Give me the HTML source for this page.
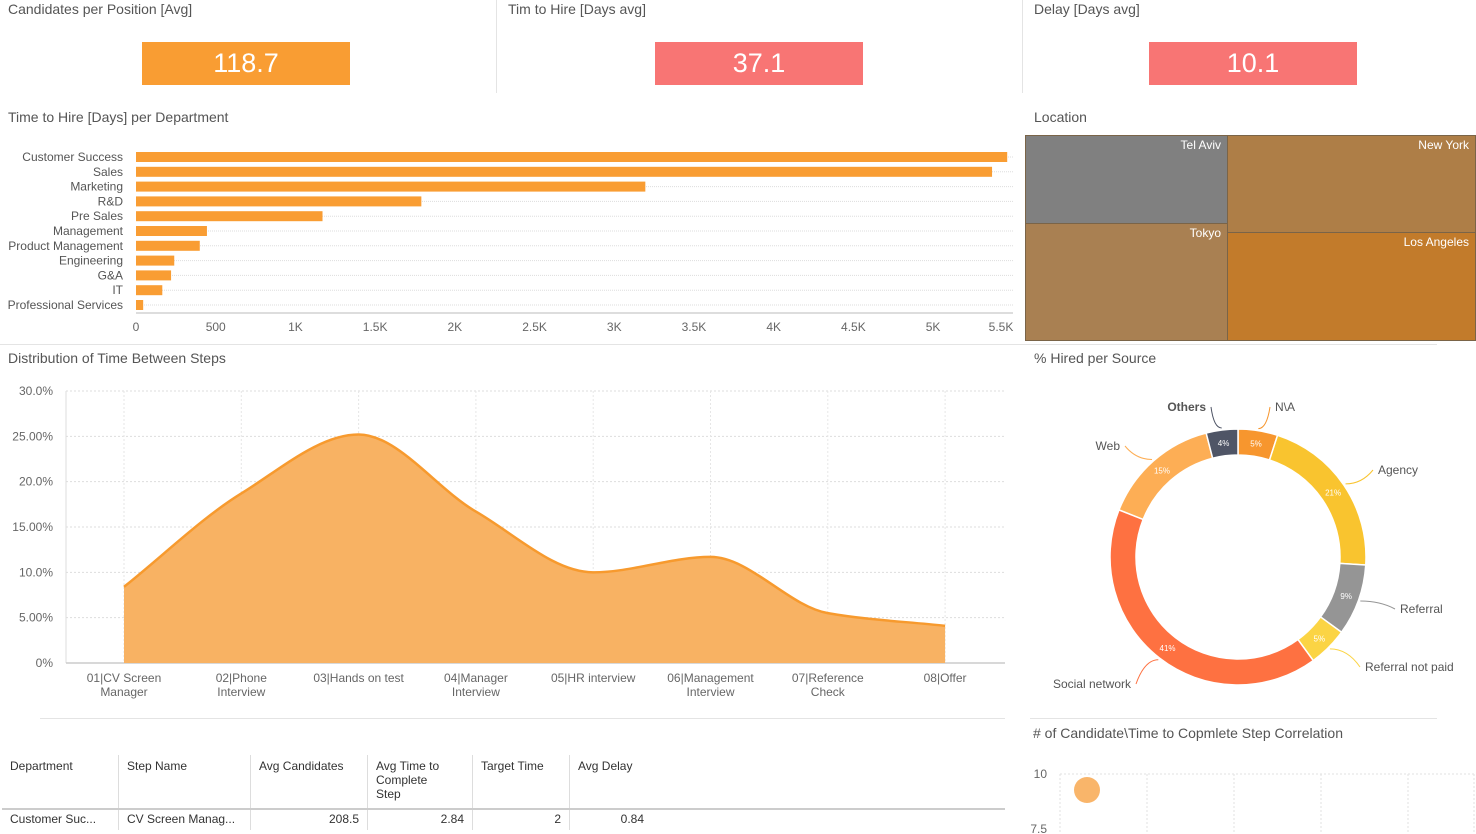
<!DOCTYPE html>
<html><head><meta charset="utf-8">
<style>
body{margin:0;width:1476px;height:834px;background:#fff;font-family:"Liberation Sans",sans-serif;overflow:hidden;position:relative;color:#555}
.t{position:absolute;font-size:14px;color:#555}
.kpi{position:absolute;top:42px;height:43px;width:208px;color:#fff;font-size:27px;text-align:center;line-height:43px}
.vl{position:absolute;width:1px;background:#e4e4e4}
.hl{position:absolute;height:1px;background:#e4e4e4}
.tm{position:absolute;color:#fff;font-size:12px;text-align:right;padding:2px 6px 0 0;box-sizing:border-box;border:1px solid #7a6448}
table{position:absolute;left:2px;top:755px;border-collapse:collapse;font-size:12px;color:#333}
td{border-left:1px solid #ddd;vertical-align:top;padding:4px 8px}
</style></head><body>
<div class="t" style="left:8px;top:1px">Candidates per Position [Avg]</div>
<div class="kpi" style="left:142px;background:#f99d33">118.7</div>
<div class="vl" style="left:496px;top:0;height:93px"></div>
<div class="t" style="left:508px;top:1px">Tim to Hire [Days avg]</div>
<div class="kpi" style="left:655px;background:#f87574">37.1</div>
<div class="vl" style="left:1022px;top:0;height:93px"></div>
<div class="t" style="left:1034px;top:1px">Delay [Days avg]</div>
<div class="kpi" style="left:1149px;background:#f87574">10.1</div>

<div class="t" style="left:8px;top:109px">Time to Hire [Days] per Department</div>
<div class="t" style="left:1034px;top:109px">Location</div>
<div class="tm" style="left:1025px;top:135px;width:203px;height:89px;background:#808080">Tel Aviv</div>
<div class="tm" style="left:1025px;top:223px;width:203px;height:118px;background:#a98052">Tokyo</div>
<div class="tm" style="left:1227px;top:135px;width:249px;height:98px;background:#ae7e47">New York</div>
<div class="tm" style="left:1227px;top:232px;width:249px;height:109px;background:#c27b2b">Los Angeles</div>

<div class="hl" style="left:0;top:344px;width:1437px"></div>
<div class="t" style="left:8px;top:350px">Distribution of Time Between Steps</div>
<div class="t" style="left:1034px;top:350px">% Hired per Source</div>
<div class="hl" style="left:40px;top:718px;width:965px"></div>
<div class="hl" style="left:1030px;top:718px;width:407px"></div>
<div class="t" style="left:1033px;top:725px">&#35; of Candidate\Time to Copmlete Step Correlation</div>

<svg id="svg" width="1476" height="834" style="position:absolute;left:0;top:0" font-family="Liberation Sans, sans-serif"></svg>

<table>
<tr style="height:53px"><td style="border-left:none;width:100px">Department</td><td style="width:115px">Step Name</td><td style="width:100px">Avg Candidates</td><td style="width:88px">Avg Time to<br>Complete<br>Step</td><td style="width:80px">Target Time</td><td style="width:66px">Avg Delay</td></tr>
<tr><td style="border-left:none">Customer Suc...</td><td>CV Screen Manag...</td><td style="text-align:right">208.5</td><td style="text-align:right">2.84</td><td style="text-align:right">2</td><td style="text-align:right">0.84</td></tr>
</table>
<div class="hl" style="left:2px;top:808px;width:1003px;height:2px;background:#ccc"></div>

<script>
const departments=["Customer Success","Sales","Marketing","R&D","Pre Sales","Management","Product Management","Engineering","G&A","IT","Professional Services"];
const hireDays=[5465,5370,3195,1790,1170,445,400,240,220,165,45];
const xTicks=[0,500,1000,1500,2000,2500,3000,3500,4000,4500,5000,5500];
const xTickLabels=["0","500","1K","1.5K","2K","2.5K","3K","3.5K","4K","4.5K","5K","5.5K"];

const steps=["01 | CV Screen|Manager","02 | Phone|Interview","03 | Hands on test","04 | Manager|Interview","05 | HR interview","06 | Management|Interview","07 | Reference|Check","08 | Offer"];
const stepPct=[8.4,18.7,25.2,16.7,10.0,11.7,5.5,4.1];
const yTicks=[0,5,10,15,20,25,30];
const yTickLabels=["0%","5.00%","10.0%","15.00%","20.0%","25.00%","30.0%"];

const sources=["N\\A","Agency","Referral","Referral not paid","Social network","Web","Others"];
const sourcePct=[5,21,9,5,41,15,4];
const sourceColors=["#f7962e","#f9c42f","#959595","#fbd444","#fe7141","#fdae55","#4f5566"];

const scatterX=[1];
const scatterY=[9.0];

const svg=document.getElementById('svg');
const NS="http://www.w3.org/2000/svg";
function mk(tag,attrs,parent){const e=document.createElementNS(NS,tag);for(const k in attrs)e.setAttribute(k,attrs[k]);(parent||svg).appendChild(e);return e;}

// Bar chart
const bx=v=>136+v*(1008-136)/5470;
const by=i=>157+i*14.8;
xTicks.forEach((t,i)=>{
  const tx=mk('text',{x:Math.min(bx(t),1001),y:331,'font-size':12,fill:'#666','text-anchor':'middle'});
  tx.textContent=xTickLabels[i];
  
  
});
mk('line',{x1:136,y1:313,x2:1013,y2:313,stroke:'#ddd','stroke-width':2});
departments.forEach((d,i)=>{
  mk('line',{x1:136,y1:by(i),x2:1013,y2:by(i),stroke:'#ddd','stroke-dasharray':'1,1'});
  const r=mk('rect',{x:136,y:by(i)-5,width:bx(hireDays[i])-136,height:10,fill:'#f99d33'});
  
  
  const l=mk('text',{x:123,y:by(i)+4,'font-size':12,fill:'#555','text-anchor':'end'});
  l.textContent=d;
  
  
});

// Area chart
const ax=i=>124+i*117.3;
const ay=v=>663-v*(663-391)/30;
yTicks.forEach((t,i)=>{
  mk('line',{x1:66,y1:ay(t),x2:1005,y2:ay(t),stroke:'#ddd','stroke-dasharray':'2,2'});
  const tx=mk('text',{x:53,y:ay(t)+4,'font-size':12,fill:'#666','text-anchor':'end'});
  tx.textContent=yTickLabels[i];
  
  
});
mk('line',{x1:66,y1:391,x2:66,y2:663,stroke:'#ddd'});
steps.forEach((s,i)=>{
  mk('line',{x1:ax(i),y1:391,x2:ax(i),y2:663,stroke:'#e6e6e6','stroke-dasharray':'2,2'});
  const parts=s.split('|');
  const lines=parts.length>2?[parts[0]+'|'+parts[1],parts[2]]:[parts.join('|')];
  lines.forEach((ln,j)=>{
    const tx=mk('text',{x:ax(i),y:682+j*14,'font-size':12,fill:'#666','text-anchor':'middle'});
    tx.textContent=ln.replace(/ \| /,'|');
    
    
  });
});
mk('line',{x1:66,y1:663,x2:1005,y2:663,stroke:'#ccc','stroke-width':1.5});
const pts=stepPct.map((v,i)=>[ax(i),ay(v)]);
const n=pts.length,dx=[],sl=[],m=[];
for(let i=0;i<n-1;i++){dx[i]=pts[i+1][0]-pts[i][0];sl[i]=(pts[i+1][1]-pts[i][1])/dx[i];}
m[0]=sl[0];m[n-1]=sl[n-2];
for(let i=1;i<n-1;i++){m[i]=sl[i-1]*sl[i]<=0?0:3*(dx[i-1]+dx[i])/((2*dx[i]+dx[i-1])/sl[i-1]+(dx[i]+2*dx[i-1])/sl[i]);}
let d='M'+pts[0][0]+','+pts[0][1];
for(let i=0;i<n-1;i++){const h=dx[i]/3;d+=' C'+(pts[i][0]+h)+','+(pts[i][1]+m[i]*h)+' '+(pts[i+1][0]-h)+','+(pts[i+1][1]-m[i+1]*h)+' '+pts[i+1][0]+','+pts[i+1][1];}
const area=mk('path',{d:d+' L'+pts[n-1][0]+',663 L'+pts[0][0]+',663 Z',fill:'#f8b263'});


const line=mk('path',{d:d,fill:'none',stroke:'#f79a2e','stroke-width':2.5});



// Donut
const cx=1238,cy=557,R=128,r0=102;
let ang=0;const total=sourcePct.reduce((a,b)=>a+b,0);
const labelPos=[[1275,411,'start'],[1378,474,'start'],[1400,613,'start'],[1365,671,'start'],[1131,688,'end'],[1120,450,'end'],[1206,411,'end']];
sourcePct.forEach((v,i)=>{
  const a0=ang,a1=ang+v/total*2*Math.PI;ang=a1;
  const p=(a,rr)=>[cx+rr*Math.sin(a),cy-rr*Math.cos(a)];
  const [x0,y0]=p(a0,R),[x1,y1]=p(a1,R),[x2,y2]=p(a1,r0),[x3,y3]=p(a0,r0);
  const lg=a1-a0>Math.PI?1:0;
  const s=mk('path',{d:`M${x0},${y0} A${R},${R} 0 ${lg} 1 ${x1},${y1} L${x2},${y2} A${r0},${r0} 0 ${lg} 0 ${x3},${y3} Z`,fill:sourceColors[i],stroke:'#fff','stroke-width':1.5});
  
  
  const am=(a0+a1)/2,[lx,ly]=p(am,(R+r0)/2);
  const pt=mk('text',{x:lx,y:ly+3,'font-size':8,fill:'#fff','text-anchor':'middle'});
  pt.textContent=v+'%';
  
  
  const [ex,ey]=p(am,R+2);const L=labelPos[i];
  mk('path',{d:`M${ex},${ey} Q${(ex+L[0])/2},${ey} ${L[0]+(L[2]=='start'?-5:5)},${L[1]-4}`,fill:'none',stroke:sourceColors[i]});
  const nt=mk('text',{x:L[0],y:L[1],'font-size':12,fill:'#555','text-anchor':L[2],'font-weight':sources[i]=='Others'?'bold':'normal'});
  nt.textContent=sources[i];
  
  
});

// Scatter
const sx=v=>1087+(v-1)*87;
const sy=v=>774+(10-v)*22;
[1060,1147,1234,1321,1408,1474].forEach(x=>mk('line',{x1:x,y1:774,x2:x,y2:834,stroke:'#e2e2e2','stroke-dasharray':'2,2'}));
mk('line',{x1:1060,y1:774,x2:1476,y2:774,stroke:'#e2e2e2','stroke-dasharray':'2,2'});
[["10",10],["7.5",7.5]].forEach(([t,v])=>{const tx=mk('text',{x:1047,y:sy(v)+4,'font-size':12,fill:'#666','text-anchor':'end'});tx.textContent=t;

});
scatterX.forEach((x,i)=>{const c=mk('circle',{cx:sx(x),cy:sy(scatterY[i])-6,r:13,fill:'#f9b56a'});

});
</script>
</body></html>
